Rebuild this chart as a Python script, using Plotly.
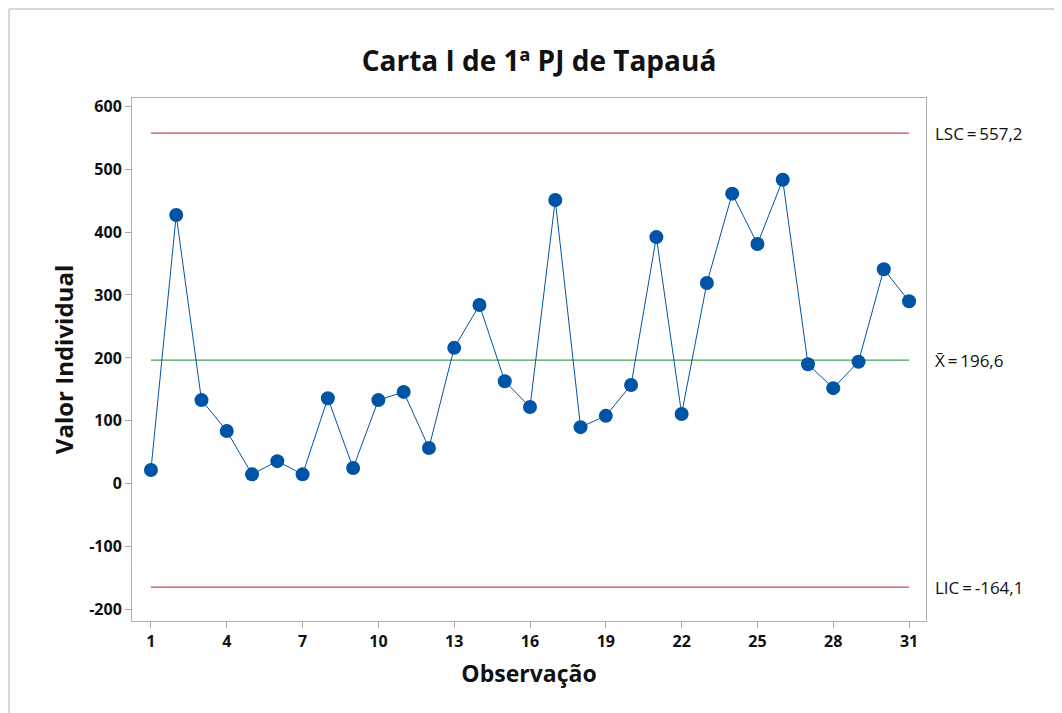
import plotly.graph_objects as go

obs = list(range(1, 32))
values = [22, 427, 133, 84, 15, 36, 15, 136, 25, 133, 146, 57, 216, 284, 163, 122,
          451, 90, 108, 157, 392, 111, 319, 461, 381, 483, 190, 152, 194, 341, 290]
ucl = 557.2
center = 196.6
lcl = -164.1
xticks = [1, 4, 7, 10, 13, 16, 19, 22, 25, 28, 31]
yticks = [-200, -100, 0, 100, 200, 300, 400, 500, 600]
yticktext = ["-200", "-100", "0", "100", "200", "300", "400", "500", "600"]

font = "Open Sans, Noto Sans, sans-serif"
red = "#C0504D"
green = "#3FA34D"
blue = "#0054A6"

L, T, W, H = 124, 90, 794, 523

fig = go.Figure()
for val, col in [(ucl, red), (center, green), (lcl, red)]:
    fig.add_trace(go.Scatter(x=[obs[0], obs[-1]], y=[val, val], mode="lines",
                             line=dict(color=col, width=1.2), hoverinfo="skip"))
fig.add_trace(go.Scatter(x=obs, y=values, mode="lines+markers",
                         line=dict(color=blue, width=1),
                         marker=dict(color=blue, size=14)))

ts = "\u2009"
labels = [(ucl, f"LSC{ts}={ts}557,2"), (center, f"X\u0304{ts}={ts}196,6"), (lcl, f"LIC{ts}={ts}-164,1")]
for val, txt in labels:
    fig.add_annotation(x=1.0, xref="paper", xanchor="left", xshift=7,
                       y=val, yref="y", yanchor="middle", text=txt, showarrow=False,
                       font=dict(family=font, size=17, color="#111"))

fig.update_layout(
    width=1062, height=713,
    margin=dict(l=L, r=1062 - L - W, t=T, b=713 - T - H),
    paper_bgcolor="white", plot_bgcolor="white",
    showlegend=False,
    title=dict(text="<b>Carta I de 1ª PJ de Tapauá</b>", x=0.5, xanchor="center",
               y=1 - 53 / 713, yanchor="middle",
               font=dict(family=font, size=28, color="#111")),
    font=dict(family=font, color="#111"),
)
fig.update_xaxes(range=[0.25, 31.67], tickvals=xticks,
                 ticktext=[f"<b>{t}</b>" for t in xticks],
                 ticks="outside", ticklen=6, tickcolor="#aaa",
                 showline=True, linecolor="#b0b0b0", linewidth=1, mirror=True,
                 showgrid=False, zeroline=False,
                 tickfont=dict(family=font, size=16, color="#111"),
                 title=dict(text="<b>Observação</b>", standoff=14,
                            font=dict(family=font, size=23, color="#111")))
fig.update_yaxes(range=[-218, 613], tickvals=yticks,
                 ticktext=[f"<b>{t}</b>" for t in yticktext],
                 ticks="outside", ticklen=6, tickcolor="#aaa",
                 showline=True, linecolor="#b0b0b0", linewidth=1, mirror=True,
                 showgrid=False, zeroline=False,
                 tickfont=dict(family=font, size=16, color="#111"),
                 title=dict(text="<b>Valor Individual</b>", standoff=8,
                            font=dict(family=font, size=24, color="#111")))

# light outer frame (top and left edges)
top_y = 1 + (T - 1) / H
left_x = -(L - 1) / W
fig.add_shape(type="line", xref="paper", yref="paper",
              x0=left_x, x1=1.3, y0=top_y, y1=top_y,
              line=dict(color="#d8d8d8", width=2))
fig.add_shape(type="line", xref="paper", yref="paper",
              x0=left_x, x1=left_x, y0=-0.3, y1=top_y,
              line=dict(color="#d8d8d8", width=2))

fig.write_html("out.html")
